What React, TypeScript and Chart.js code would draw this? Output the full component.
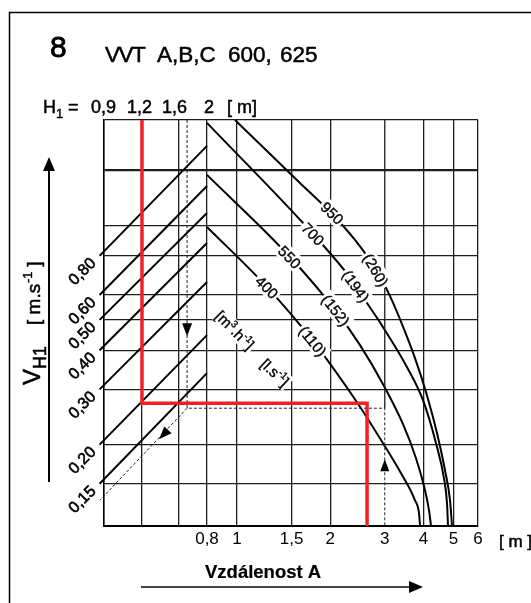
import React, { useEffect, useRef } from 'react';
import { Chart, registerables } from 'chart.js';
Chart.register(...registerables);

const FONT = '"Liberation Sans", Arial, Helvetica, sans-serif';
const GRID = '#1e1e1e';
const RED = '#ee2127';

// ---- axis ranges (log-log nomogram) ----
const X_MIN = 0.372;
const X_MAX = 6;
const Y_MIN = 0.11;
const Y_MAX = 2.17;

// vertical grid lines (left three lie on the H1 scale)
const xGridValues = [0.372, 0.4934, 0.6497, 0.8, 1, 1.5, 2, 3, 4, 5, 6];
const xTickLabels: Record<string, string> = {
  '0.8': '0,8', '1': '1', '1.5': '1,5', '2': '2', '3': '3', '4': '4', '5': '5', '6': '6',
};
const yGridValues = [0.11, 0.15, 0.2, 0.3, 0.4, 0.5, 0.6, 0.8, 1.0, 1.5, 2.17];

// H1 scale labels (top)
const h1Labels = ['0,9', '1,2', '1,6', '2'];

// velocity lines V_H1
const velocityLabels = ['0,80', '0,60', '0,50', '0,40', '0,30', '0,20', '0,15'];
const velocityStart = [0.8, 0.6, 0.5, 0.4, 0.3, 0.2, 0.15];
const velocityEnd = [1.795, 1.337, 1.096, 0.879, 0.66, 0.447, 0.338];
const diagStartA = 0.36;
const diagEndA = 0.8;

// airflow curves  [m3/h]  ( [l/s] )
const flowLabels = ['400', '550', '700', '950'];
const flowLsLabels = ['(110)', '(152)', '(194)', '(260)'];
const curve400A = [0.8, 1.25, 1.76, 2.44, 2.961, 3.385, 3.756, 3.87, 3.899];
const curve400V = [0.989, 0.636, 0.428, 0.2731, 0.202, 0.162, 0.1328, 0.1207, 0.11];
const curve550A = [0.8, 1.483, 2.087, 2.496, 2.961, 3.436, 3.784, 4.017, 4.169, 4.231];
const curve550V = [1.45, 0.7932, 0.5332, 0.4152, 0.3117, 0.2323, 0.1809, 0.1472, 0.1234, 0.11];
const curve700A = [0.8, 1.76, 2.351, 2.59, 2.961, 3.54, 3.986, 4.391, 4.66, 4.765, 4.801];
const curve700V = [2.125, 0.9394, 0.6697, 0.5782, 0.4741, 0.3532, 0.2771, 0.202, 0.1561, 0.1299, 0.11];
const curve950A = [0.985, 1.597, 2.027, 2.404, 2.791, 3.119, 3.41, 3.756, 4.077, 4.424, 4.695, 4.873, 4.946];
const curve950V = [2.17, 1.367, 1.088, 0.8989, 0.7315, 0.5954, 0.4847, 0.3774, 0.2939, 0.2175, 0.1656, 0.1328, 0.11];

// worked example (red) and reading guide (dashed)
const exampleRedA = [0.4934, 0.4934, 2.63, 2.63];
const exampleRedV = [2.17, 0.2711, 0.2711, 0.11];
const exampleDashA = [0.69, 0.69, 3, 3];
const exampleDashV = [2.17, 0.2613, 0.2613, 0.11];
const exampleDiagA = [0.69, 0.361];
const exampleDiagV = [0.2613, 0.133];
const gridA3V = [2.17, 0.2613];

// label anchors (data coords) and rotation
const flowLabelPos = [
  { a: 1.25, v: 0.636, rot: 45 },
  { a: 1.48, v: 0.793, rot: 45 },
  { a: 1.76, v: 0.939, rot: 46 },
  { a: 2.03, v: 1.096, rot: 44 },
];
const flowLsLabelPos = [
  { a: 1.76, v: 0.428, rot: 51 },
  { a: 2.087, v: 0.537, rot: 52 },
  { a: 2.422, v: 0.641, rot: 55 },
  { a: 2.811, v: 0.721, rot: 60 },
];

const pts = (a: number[], v: number[]) => a.map((x, i) => ({ x, y: v[i] }));

function arrowHead(ctx: CanvasRenderingContext2D, tx: number, ty: number, dx: number, dy: number, len: number, half: number) {
  const L = Math.hypot(dx, dy) || 1;
  const ux = dx / L, uy = dy / L;
  const bx = tx - ux * len, by = ty - uy * len;
  ctx.beginPath();
  ctx.moveTo(tx, ty);
  ctx.lineTo(bx - uy * half, by + ux * half);
  ctx.lineTo(bx + uy * half, by - ux * half);
  ctx.closePath();
  ctx.fill();
}

// text with slightly heavier strokes, like the printed original
function text(ctx: CanvasRenderingContext2D, t: string, x: number, y: number, weight = 0.5) {
  ctx.fillText(t, x, y);
  if (weight > 0) {
    ctx.lineWidth = weight;
    ctx.strokeStyle = ctx.fillStyle as string;
    ctx.strokeText(t, x, y);
  }
}

type Part = { t: string; size: number; dy: number };
function drawRich(ctx: CanvasRenderingContext2D, cx: number, cy: number, deg: number, parts: Part[], box: boolean) {
  ctx.save();
  ctx.translate(cx, cy);
  ctx.rotate((deg * Math.PI) / 180);
  let total = 0;
  const widths = parts.map((p) => {
    ctx.font = `${p.size}px ${FONT}`;
    const w = ctx.measureText(p.t).width;
    total += w;
    return w;
  });
  if (box) {
    ctx.fillStyle = '#fff';
    ctx.fillRect(-total / 2 - 2, -8.5, total + 4, 17);
  }
  ctx.fillStyle = '#000';
  ctx.textAlign = 'left';
  ctx.textBaseline = 'alphabetic';
  let x = -total / 2;
  parts.forEach((p, i) => {
    ctx.font = `${p.size}px ${FONT}`;
    text(ctx, p.t, x, 5.5 + p.dy, 0.35);
    x += widths[i];
  });
  ctx.restore();
}

const decor = {
  id: 'decor',
  beforeDraw(chart: any) {
    const ctx = chart.ctx as CanvasRenderingContext2D;
    ctx.save();
    ctx.fillStyle = '#fff';
    ctx.fillRect(0, 0, chart.width, chart.height);
    ctx.restore();
  },
  afterDraw(chart: any) {
    const ctx = chart.ctx as CanvasRenderingContext2D;
    const xs = chart.scales.x;
    const ys = chart.scales.y;
    ctx.save();

    // frame
    ctx.strokeStyle = '#000';
    ctx.lineWidth = 1.5;
    ctx.beginPath();
    ctx.moveTo(9.5, chart.height);
    ctx.lineTo(9.5, 12.5);
    ctx.lineTo(chart.width, 12.5);
    ctx.stroke();

    ctx.fillStyle = '#000';
    ctx.textAlign = 'left';
    ctx.textBaseline = 'alphabetic';

    // title
    ctx.font = `30px ${FONT}`;
    text(ctx, '8', 50, 57, 0.9);
    ctx.font = `22.5px ${FONT}`;
    (ctx as any).letterSpacing = '-1.5px';
    text(ctx, 'VVT', 105, 62, 0.5);
    (ctx as any).letterSpacing = '0px';
    text(ctx, 'A,B,C', 157, 62, 0.5);
    text(ctx, '600,', 228, 62, 0.5);
    text(ctx, '625', 280, 62, 0.5);

    // H1 row
    ctx.font = `18px ${FONT}`;
    text(ctx, 'H', 43, 113);
    ctx.font = `13px ${FONT}`;
    text(ctx, '1', 56, 118, 0.4);
    ctx.font = `18px ${FONT}`;
    text(ctx, '=', 68, 113);
    const h1x = [91, 127, 162, 204];
    h1Labels.forEach((t, i) => text(ctx, t, h1x[i], 113));
    text(ctx, '[ m]', 227, 113);

    // bottom unit & title
    ctx.font = `17px ${FONT}`;
    text(ctx, '[ m ]', 499, 547);
    ctx.font = `bold 18.5px ${FONT}`;
    text(ctx, 'Vzdálenost A', 205, 578, 0.2);

    // horizontal arrow
    ctx.strokeStyle = '#444';
    ctx.lineWidth = 2;
    ctx.beginPath();
    ctx.moveTo(141, 587);
    ctx.lineTo(410, 587);
    ctx.stroke();
    ctx.fillStyle = '#000';
    arrowHead(ctx, 423, 587, 1, 0, 14, 6);

    // vertical arrow
    ctx.strokeStyle = '#000';
    ctx.lineWidth = 2;
    ctx.beginPath();
    ctx.moveTo(49, 482);
    ctx.lineTo(49, 170);
    ctx.stroke();
    arrowHead(ctx, 49, 157, 0, -1, 14, 6);

    // V_H1 [m.s-1]
    ctx.save();
    ctx.translate(40, 385);
    ctx.rotate(-Math.PI / 2);
    ctx.font = `24px ${FONT}`;
    text(ctx, 'V', 0, 0);
    ctx.font = `18px ${FONT}`;
    text(ctx, 'H1', 16, 6);
    ctx.font = `19px ${FONT}`;
    text(ctx, '[ m.s', 60, 0);
    ctx.font = `13px ${FONT}`;
    text(ctx, '-1', 102, -8, 0.4);
    ctx.font = `19px ${FONT}`;
    text(ctx, ' ]', 113, 0);
    ctx.restore();

    // velocity labels
    ctx.font = `16px ${FONT}`;
    velocityLabels.forEach((t, i) => {
      const px = xs.getPixelForValue(diagStartA);
      const py = ys.getPixelForValue(velocityStart[i]);
      ctx.save();
      ctx.translate(px - 6, py + 5);
      ctx.rotate(-Math.PI / 4);
      ctx.textAlign = 'right';
      ctx.textBaseline = 'middle';
      text(ctx, t, 0, 0, 0.6);
      ctx.restore();
    });

    // curve labels
    flowLabels.forEach((t, i) => {
      const p = flowLabelPos[i];
      drawRich(ctx, xs.getPixelForValue(p.a), ys.getPixelForValue(p.v), p.rot, [{ t, size: 15, dy: 0 }], true);
    });
    flowLsLabels.forEach((t, i) => {
      const p = flowLsLabelPos[i];
      drawRich(ctx, xs.getPixelForValue(p.a), ys.getPixelForValue(p.v), p.rot, [{ t, size: 15, dy: 0 }], true);
    });
    drawRich(ctx, xs.getPixelForValue(0.985), ys.getPixelForValue(0.464), 45, [
      { t: '[m', size: 15, dy: 0 },
      { t: '3', size: 10, dy: -6 },
      { t: '.h', size: 15, dy: 0 },
      { t: '-1', size: 10, dy: -6 },
      { t: ']', size: 15, dy: 0 },
    ], true);
    drawRich(ctx, xs.getPixelForValue(1.327), ys.getPixelForValue(0.34), 43, [
      { t: '[l.s', size: 15, dy: 0 },
      { t: '-1', size: 10, dy: -6 },
      { t: ']', size: 15, dy: 0 },
    ], true);

    // arrows on the dashed reading guide
    ctx.fillStyle = '#000';
    arrowHead(ctx, xs.getPixelForValue(0.69), ys.getPixelForValue(0.443), 0, 1, 13, 5);
    arrowHead(ctx, xs.getPixelForValue(3), ys.getPixelForValue(0.1795), 0, -1, 12, 4.5);
    const d0x = xs.getPixelForValue(exampleDiagA[0]);
    const d0y = ys.getPixelForValue(exampleDiagV[0]);
    const d1x = xs.getPixelForValue(exampleDiagA[1]);
    const d1y = ys.getPixelForValue(exampleDiagV[1]);
    arrowHead(ctx, xs.getPixelForValue(0.56), ys.getPixelForValue(0.208), d1x - d0x, d1y - d0y, 13, 5);

    ctx.restore();
  },
};

export default function App() {
  const ref = useRef<HTMLCanvasElement>(null);
  useEffect(() => {
    if (!ref.current) return;
    const base = { pointRadius: 0, fill: false, tension: 0 };
    const black = { ...base, borderColor: '#000', borderWidth: 2 };
    const curve = { ...black, cubicInterpolationMode: 'monotone' as const };
    const chart = new Chart(ref.current, {
      type: 'line',
      data: {
        datasets: [
          { ...base, data: pts(exampleRedA, exampleRedV), borderColor: RED, borderWidth: 3.5, borderJoinStyle: 'miter' },
          { ...base, data: pts(exampleDashA, exampleDashV), borderColor: '#222', borderWidth: 1, borderDash: [3, 2] },
          { ...base, data: pts(exampleDiagA, exampleDiagV), borderColor: '#222', borderWidth: 1, borderDash: [3, 2], clip: false },
          { ...base, data: [{ x: 3, y: gridA3V[0] }, { x: 3, y: gridA3V[1] }], borderColor: GRID, borderWidth: 1.3 },
          ...velocityStart.map((v, i) => ({
            ...black,
            data: [{ x: diagStartA, y: v }, { x: diagEndA, y: velocityEnd[i] }],
            clip: false,
          })),
          { ...curve, data: pts(curve400A, curve400V) },
          { ...curve, data: pts(curve550A, curve550V) },
          { ...curve, data: pts(curve700A, curve700V) },
          { ...curve, data: pts(curve950A, curve950V) },
        ] as any,
      },
      options: {
        responsive: false,
        animation: false,
        events: [],
        layout: { padding: { left: 104, top: 120, right: 53, bottom: 37 } },
        plugins: { legend: { display: false }, tooltip: { enabled: false } },
        scales: {
          x: {
            type: 'logarithmic',
            min: X_MIN,
            max: X_MAX,
            position: 'bottom',
            afterBuildTicks: (s: any) => {
              s.ticks = xGridValues.map((value) => ({ value }));
            },
            afterFit: (s: any) => {
              s.height = 40;
            },
            grid: {
              color: (c: any) => (c.tick && c.tick.value === 3 ? 'rgba(0,0,0,0)' : GRID),
              lineWidth: 1.3,
              drawTicks: false,
            },
            border: { color: '#000', width: 2 },
            ticks: {
              autoSkip: false,
              maxRotation: 0,
              minRotation: 0,
              padding: 3,
              color: '#000',
              font: { family: FONT, size: 17 },
              callback: (v: any) => xTickLabels[String(v)] ?? '',
            },
          },
          y: {
            type: 'logarithmic',
            min: Y_MIN,
            max: Y_MAX,
            afterBuildTicks: (s: any) => {
              s.ticks = yGridValues.map((value) => ({ value }));
            },
            afterFit: (s: any) => {
              s.width = 0;
            },
            grid: {
              color: GRID,
              lineWidth: (c: any) => (c.tick && c.tick.value === 1.5 ? 2.3 : 1.3),
              drawTicks: false,
            },
            border: { color: '#000', width: 1.5 },
            ticks: { display: false },
          },
        },
      } as any,
      plugins: [decor],
    });
    return () => chart.destroy();
  }, []);
  return (
    <div style={{ position: 'fixed', left: 0, top: 0, width: 531, height: 603, background: '#fff' }}>
      <canvas ref={ref} width={531} height={603} style={{ display: 'block', width: 531, height: 603 }} />
    </div>
  );
}
